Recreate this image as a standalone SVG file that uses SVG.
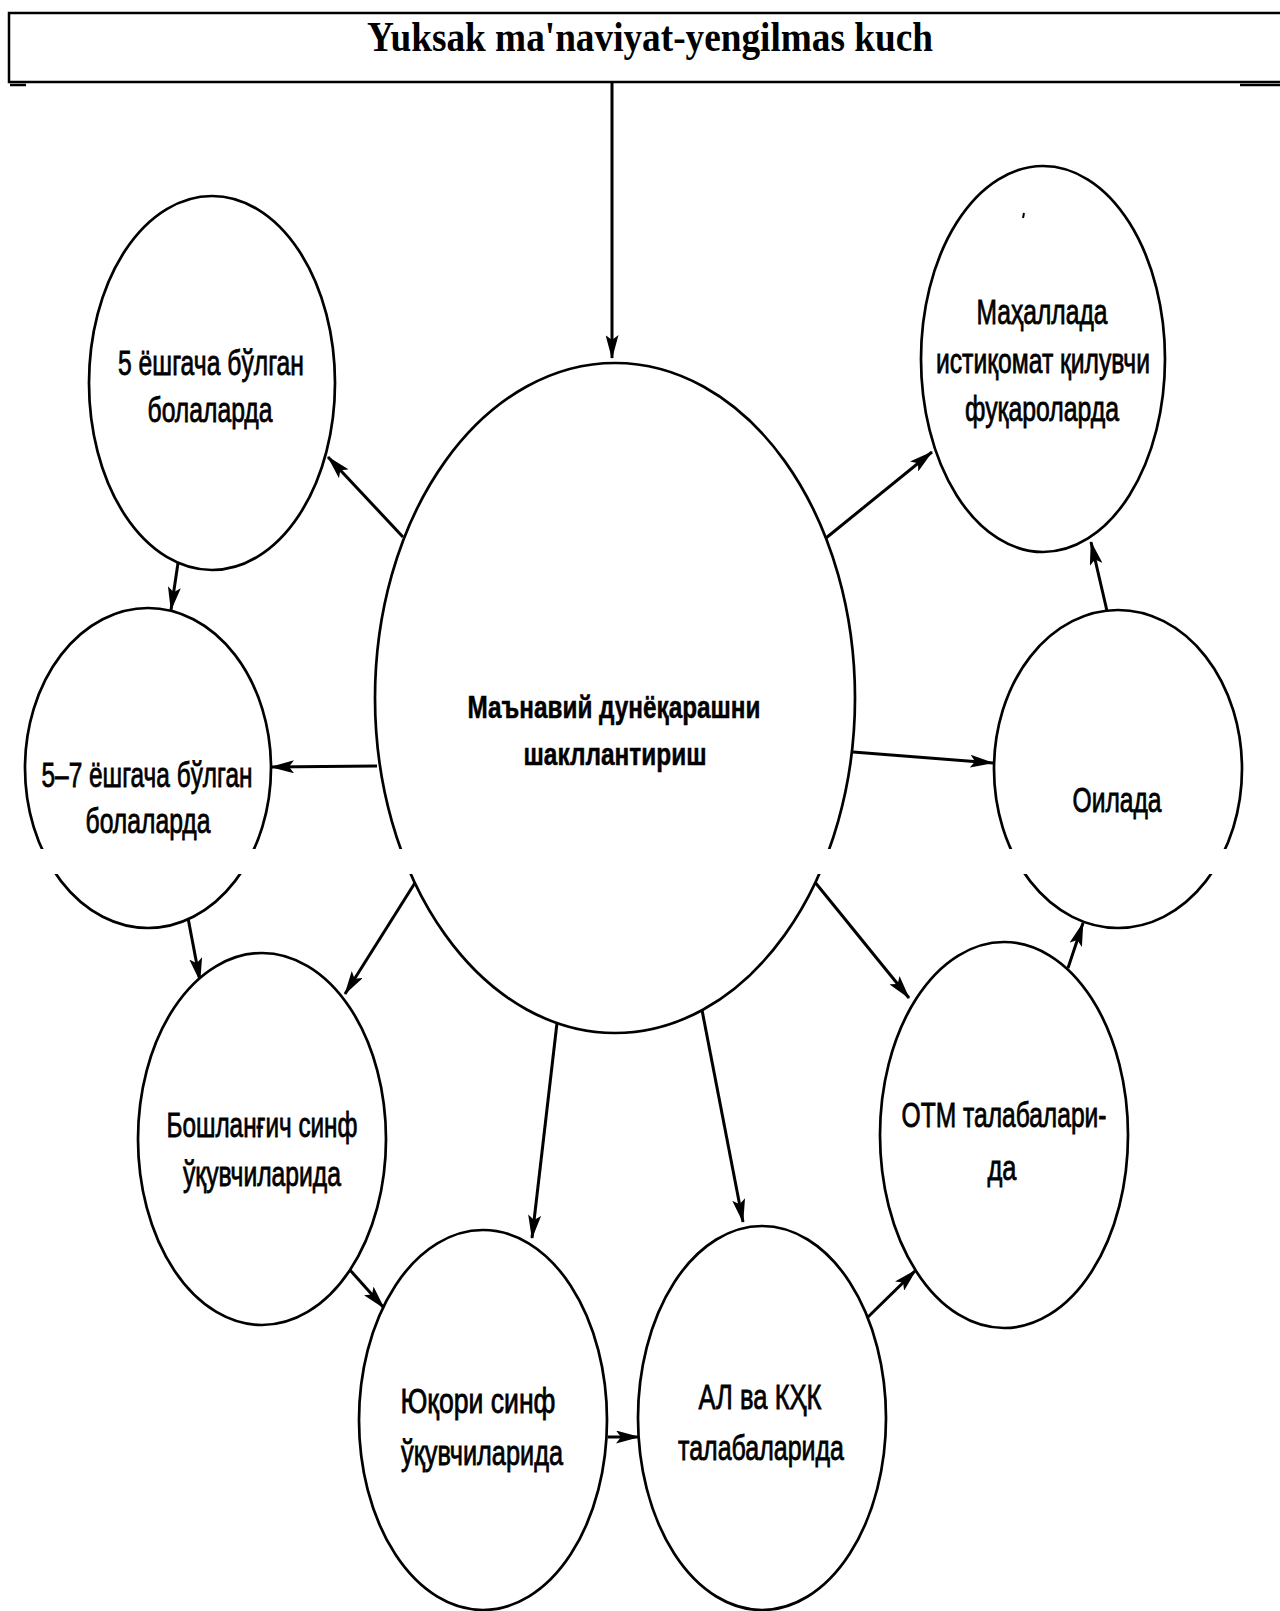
<svg xmlns="http://www.w3.org/2000/svg" width="1280" height="1611" viewBox="0 0 1280 1611">
<style>
.bg{fill:#ffffff}
.node{fill:#ffffff;stroke:#000;stroke-width:2.7}
.t{font-family:"Liberation Sans","DejaVu Sans",sans-serif;font-size:35px;fill:#000;stroke:#000;stroke-width:0.8;text-anchor:middle}
.tb{font-family:"Liberation Sans","DejaVu Sans",sans-serif;font-size:31px;font-weight:bold;fill:#000;stroke:#000;stroke-width:0.5;text-anchor:middle}
.title{font-family:"Liberation Serif","DejaVu Serif",serif;font-size:42px;font-weight:bold;fill:#000;text-anchor:middle}
.box{fill:none;stroke:#000;stroke-width:2.5}
.c{fill:none;stroke:#000;stroke-width:3;marker-end:url(#ah)}
</style>
<defs>
<marker id="ah" markerUnits="userSpaceOnUse" viewBox="0 0 24 13" refX="23" refY="6.5" markerWidth="24" markerHeight="13" orient="auto">
<path d="M0,0 L24,6.5 L0,13 L5,6.5 z" fill="#000"/>
</marker>
</defs>
<rect class="bg" x="0" y="0" width="1280" height="1611"/>

<g id="title-box">
<path class="box" d="M1282,13 H9 V82 H1282"/>
<path d="M10,85 H26 M1240,85 H1280" stroke="#000" stroke-width="2.5"/>
<text class="title" x="650" y="51" textLength="566" lengthAdjust="spacingAndGlyphs">Yuksak ma'naviyat-yengilmas kuch</text>
</g>

<g id="connectors">
<path class="c" d="M612,83 V358"/>
<path class="c" d="M403,537 L328,457"/>
<path class="c" d="M178,563 L171,610"/>
<path class="c" d="M377,766 L271,767"/>
<path class="c" d="M826,538 L932,452"/>
<path class="c" d="M853,752 L993,763"/>
<path class="c" d="M1107,611 L1091,542"/>
<path class="c" d="M188,918 L200,981"/>
<path class="c" d="M418,878 L345,994"/>
<path class="c" d="M557,1023 L532,1238"/>
<path class="c" d="M702,1010 L743,1222"/>
<path class="c" d="M810,876 L909,998"/>
<path class="c" d="M350,1270 L384,1308"/>
<path class="c" d="M608,1437 L639,1437"/>
<path class="c" d="M868,1317 L916,1270"/>
<path class="c" d="M1068,968 L1083,923"/>
</g>

<g id="center">
<ellipse class="node" cx="615" cy="698" rx="240" ry="335"/>
<text class="tb" x="614" y="718" textLength="293" lengthAdjust="spacingAndGlyphs">Маънавий дунёқарашни</text>
<text class="tb" x="615" y="765" textLength="183" lengthAdjust="spacingAndGlyphs">шакллантириш</text>
</g>

<g id="n-5yosh">
<ellipse class="node" cx="212" cy="383" rx="123" ry="187"/>
<text class="t" x="211" y="375" textLength="186" lengthAdjust="spacingAndGlyphs">5 ёшгача бўлган</text>
<text class="t" x="210" y="422" textLength="125" lengthAdjust="spacingAndGlyphs">болаларда</text>
</g>

<g id="n-5-7yosh">
<ellipse class="node" cx="148" cy="768" rx="123" ry="160"/>
<text class="t" x="147" y="787" textLength="211" lengthAdjust="spacingAndGlyphs">5–7 ёшгача бўлган</text>
<text class="t" x="148" y="833" textLength="125" lengthAdjust="spacingAndGlyphs">болаларда</text>
</g>

<g id="n-mahalla">
<ellipse class="node" cx="1043" cy="359" rx="122" ry="193"/>
<path d="M1024,213 L1023,218" stroke="#000" stroke-width="2"/>
<text class="t" x="1042" y="324" textLength="131" lengthAdjust="spacingAndGlyphs">Маҳаллада</text>
<text class="t" x="1043" y="373" textLength="214" lengthAdjust="spacingAndGlyphs">истиқомат қилувчи</text>
<text class="t" x="1042" y="421" textLength="154" lengthAdjust="spacingAndGlyphs">фуқароларда</text>
</g>

<g id="n-oila">
<ellipse class="node" cx="1118" cy="769" rx="124" ry="159"/>
<text class="t" x="1117" y="812" textLength="89" lengthAdjust="spacingAndGlyphs">Оилада</text>
</g>

<g id="n-boshlangich">
<ellipse class="node" cx="262" cy="1139" rx="124" ry="186"/>
<text class="t" x="262" y="1137" textLength="191" lengthAdjust="spacingAndGlyphs">Бошланғич синф</text>
<text class="t" x="262" y="1186" textLength="158" lengthAdjust="spacingAndGlyphs">ўқувчиларида</text>
</g>

<g id="n-yuqori">
<ellipse class="node" cx="483" cy="1420" rx="124" ry="190"/>
<text class="t" x="478" y="1413" textLength="155" lengthAdjust="spacingAndGlyphs">Юқори синф</text>
<text class="t" x="482" y="1465" textLength="162" lengthAdjust="spacingAndGlyphs">ўқувчиларида</text>
</g>

<g id="n-al">
<ellipse class="node" cx="762" cy="1418" rx="124" ry="192"/>
<text class="t" x="760" y="1409" textLength="123" lengthAdjust="spacingAndGlyphs">АЛ ва КҲК</text>
<text class="t" x="761" y="1460" textLength="166" lengthAdjust="spacingAndGlyphs">талабаларида</text>
</g>

<g id="n-otm">
<ellipse class="node" cx="1004" cy="1135" rx="124" ry="193"/>
<text class="t" x="1004" y="1127" textLength="205" lengthAdjust="spacingAndGlyphs">ОТМ талабалари-</text>
<text class="t" x="1002" y="1180" textLength="29" lengthAdjust="spacingAndGlyphs">да</text>
</g>

<rect id="page-gap" class="bg" x="0" y="849" width="1280" height="25"/>
</svg>
